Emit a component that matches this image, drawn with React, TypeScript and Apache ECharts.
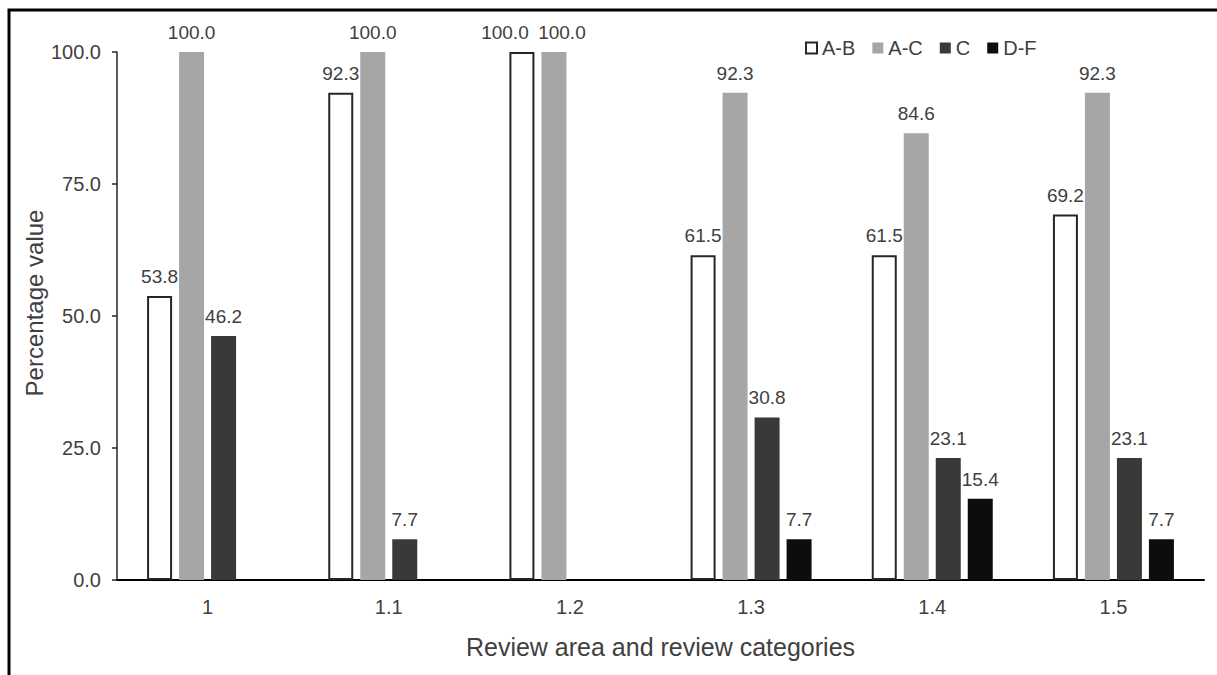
import React, { useEffect, useRef } from "react";
import * as echarts from "echarts";

const categories = ["1", "1.1", "1.2", "1.3", "1.4", "1.5"];
const seriesNames = ["A-B", "A-C", "C", "D-F"];
const valuesAB = [53.8, 92.3, 100.0, 61.5, 61.5, 69.2];
const valuesAC = [100.0, 100.0, 100.0, 92.3, 84.6, 92.3];
const valuesC = [46.2, 7.7, null, 30.8, 23.1, 23.1];
const valuesDF = [null, null, null, 7.7, 15.4, 7.7];
const yTicks = [0, 25, 50, 75, 100];

const FONT = "'Liberation Sans', Arial, sans-serif";
const TXT = "#404040";

export default function App() {
  const ref = useRef<HTMLDivElement>(null);
  useEffect(() => {
    if (!ref.current) return;
    const chart = echarts.init(ref.current, null, { renderer: "svg" });
    const label = {
      show: true,
      position: "top",
      distance: 10,
      color: TXT,
      fontSize: 19,
      fontFamily: FONT,
      formatter: (p: any) => (p.value == null ? "" : Number(p.value).toFixed(1)),
    };
    // labels of neighbouring equal bars at "1.2" are nudged apart, as in the reference
    const withOffsets = (data: (number | null)[], offsets: Record<number, number>) =>
      data.map((v, i) =>
        offsets[i] !== undefined ? { value: v, label: { offset: [offsets[i], 0] } } : v
      );
    const mk = (name: string, data: any[], itemStyle: any) => ({
      name,
      type: "bar",
      data,
      barWidth: 25,
      barGap: "28%",
      itemStyle,
      label,
    });
    chart.setOption({
      animation: false,
      backgroundColor: "#ffffff",
      textStyle: { fontFamily: FONT },
      grid: { left: 117, right: 13, top: 52, bottom: 95, containLabel: false },
      legend: {
        data: seriesNames,
        left: 800,
        top: 33,
        itemWidth: 11,
        itemHeight: 11,
        itemGap: 17,
        icon: "rect",
        textStyle: { color: TXT, fontSize: 20, fontFamily: FONT },
      },
      xAxis: {
        type: "category",
        data: categories,
        name: "Review area and review categories",
        nameLocation: "middle",
        nameGap: 54,
        nameTextStyle: { color: TXT, fontSize: 25, fontFamily: FONT },
        axisLine: { lineStyle: { color: "#000000", width: 2 } },
        axisTick: { show: false },
        axisLabel: { color: TXT, fontSize: 20, margin: 17, fontFamily: FONT },
      },
      yAxis: {
        type: "value",
        min: yTicks[0],
        max: yTicks[yTicks.length - 1],
        interval: 25,
        axisLine: { show: true, lineStyle: { color: "#262626", width: 1.5 } },
        axisTick: { show: true, length: 5, lineStyle: { color: "#262626", width: 1.5 } },
        splitLine: { show: false },
        axisLabel: {
          color: TXT,
          fontSize: 20,
          margin: 16,
          fontFamily: FONT,
          formatter: (v: number) => v.toFixed(1),
        },
      },
      graphic: [
        {
          type: "rect",
          shape: { x: 9, y: 10, width: 1400, height: 900 },
          style: { fill: "none", stroke: "#000000", lineWidth: 3 },
          silent: true,
        },
        {
          type: "text",
          x: 34,
          y: 303,
          rotation: Math.PI / 2,
          style: {
            text: "Percentage value",
            fill: TXT,
            fontSize: 24,
            fontFamily: FONT,
            align: "center",
            verticalAlign: "middle",
          },
        },
      ],
      series: [
        mk(seriesNames[0], withOffsets(valuesAB, { 2: -17 }), {
          color: "#ffffff",
          borderColor: "#262626",
          borderWidth: 2,
        }),
        mk(seriesNames[1], withOffsets(valuesAC, { 2: 8 }), { color: "#a6a6a6" }),
        mk(seriesNames[2], valuesC, { color: "#3b3838" }),
        mk(seriesNames[3], valuesDF, { color: "#0d0d0d" }),
      ],
    });
    return () => chart.dispose();
  }, []);
  return (
    <div
      ref={ref}
      style={{ position: "absolute", left: 0, top: 0, width: 1217, height: 675, background: "#fff" }}
    />
  );
}
